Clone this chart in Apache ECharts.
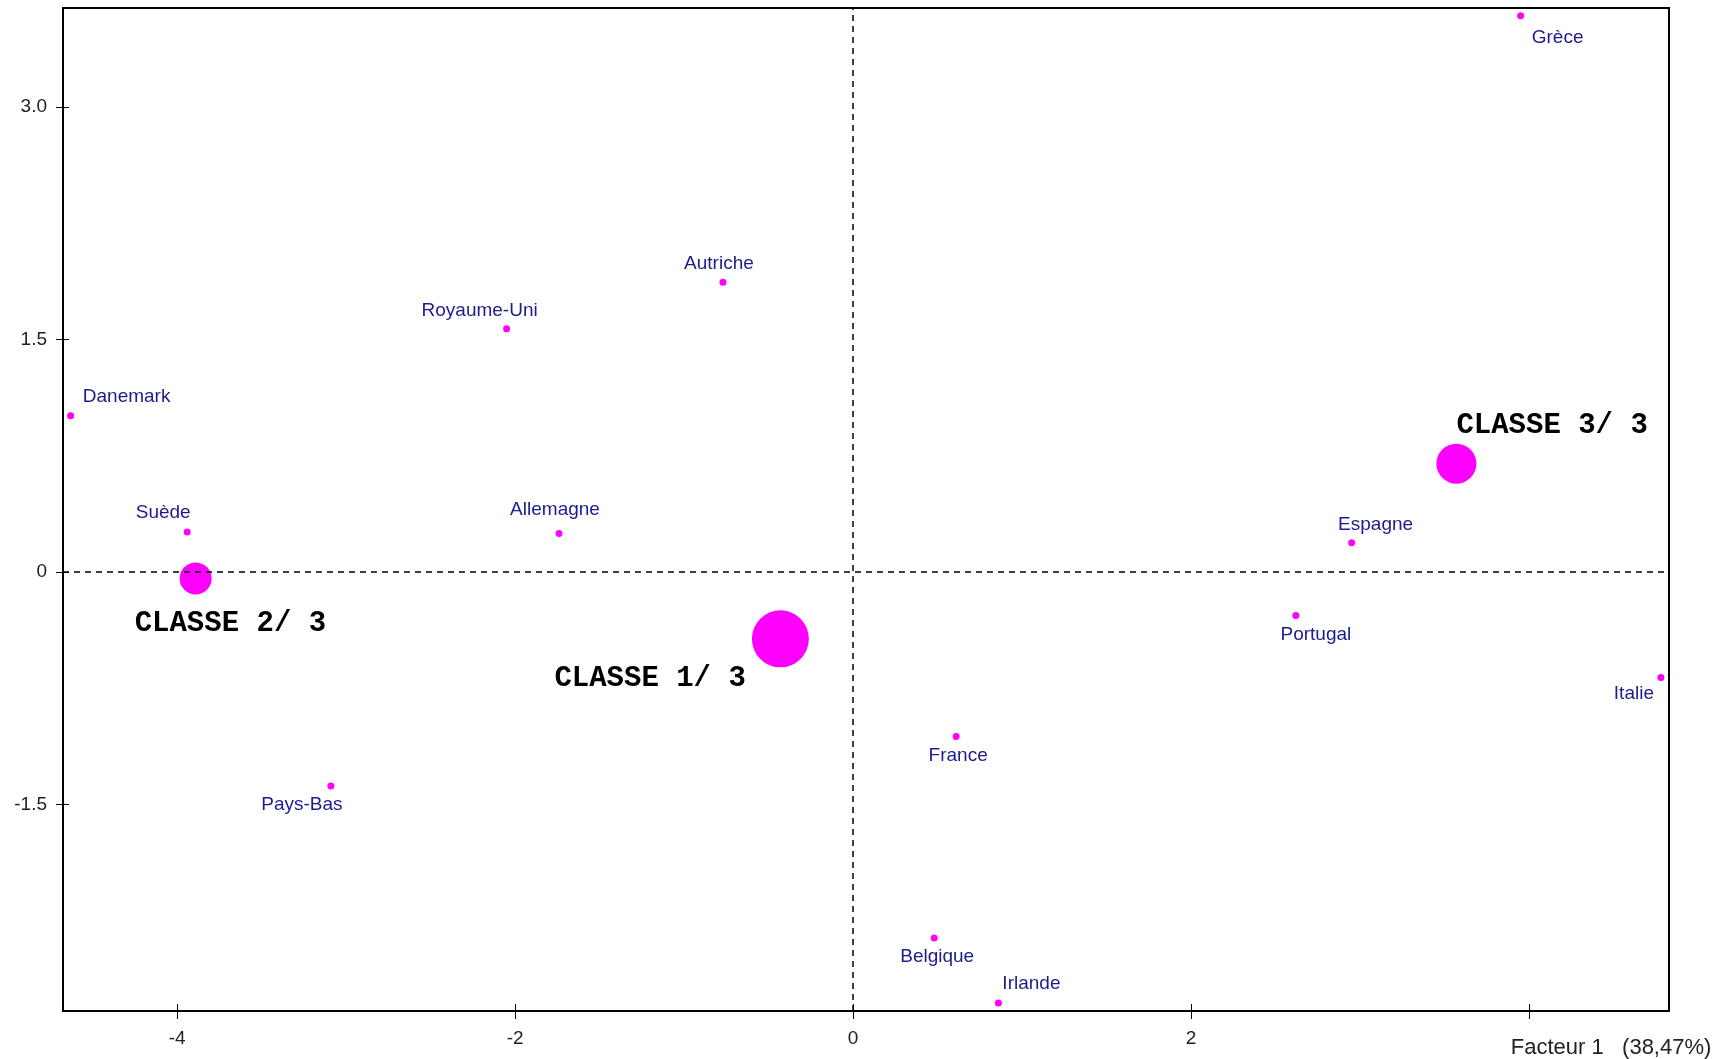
<!DOCTYPE html>
<html>
<head>
<meta charset="utf-8">
<title>Plan factoriel</title>
<script src="https://cdn.jsdelivr.net/npm/echarts@6/dist/echarts.min.js"></script>
<style>
    html, body { margin: 0; padding: 0; background: #fff; }
    #chart { width: 1736px; height: 1059px; }
</style>
</head>
<body>
<div id="chart"></div>
<script>
// individus (pays)
const countries = ['Grèce', 'Autriche', 'Royaume-Uni', 'Danemark', 'Suède', 'Allemagne', 'Espagne',
    'Portugal', 'Italie', 'France', 'Pays-Bas', 'Belgique', 'Irlande'];
const countryX = [3.95, -0.77, -2.05, -4.63, -3.94, -1.74, 2.95, 2.62, 4.78, 0.61, -3.09, 0.48, 0.86];
const countryY = [3.59, 1.87, 1.57, 1.01, 0.26, 0.25, 0.19, -0.28, -0.68, -1.06, -1.38, -2.36, -2.78];

// centres de classes
const classes = ['CLASSE 1/ 3', 'CLASSE 2/ 3', 'CLASSE 3/ 3'];
const classX = [-0.43, -3.89, 3.57];
const classY = [-0.43, -0.04, 0.70];

const xTicks = [-4, -2, 0, 2, 4];
const yTicks = [-1.5, 0, 1.5, 3.0];
const xTitle = 'Facteur 1   (38,47%)';

// placement des étiquettes (px, relatif au point)
const labelOffset = {
    'Grèce': [37, 22], 'Autriche': [-4, -19], 'Royaume-Uni': [-27, -18], 'Danemark': [56, -19],
    'Suède': [-24, -19], 'Allemagne': [-4, -24], 'Espagne': [24, -18], 'Portugal': [20, 19],
    'Italie': [-27, 16], 'France': [2, 19], 'Pays-Bas': [-29, 19], 'Belgique': [3, 19], 'Irlande': [33, -19]
};
const classStyle = [
    { size: 57, offset: [-226, 40] },
    { size: 32, offset: [-61, 45] },
    { size: 40, offset: [0, -38] }
];

const chart = echarts.init(document.getElementById('chart'));

const countryData = countries.map((n, i) => ({
    name: n,
    value: [countryX[i], countryY[i]],
    label: { offset: labelOffset[n] }
}));
const classData = classes.map((n, i) => ({
    name: n,
    value: [classX[i], classY[i]],
    symbolSize: classStyle[i].size,
    label: { offset: classStyle[i].offset }
}));

const xRange = { min: -4.675, max: 4.828 };
const yRange = { min: -2.831, max: 3.64 };

const option = {
    animation: false,
    backgroundColor: '#fff',
    grid: {
        left: 63, right: 67, top: 8, bottom: 48,
        show: true, borderColor: '#000', borderWidth: 2, backgroundColor: 'transparent'
    },
    xAxis: [
        {
            type: 'value', min: xRange.min, max: xRange.max,
            splitLine: { show: false },
            axisLine: { onZero: false, lineStyle: { color: '#000', width: 2 } },
            axisTick: { customValues: xTicks, length: 8, lineStyle: { color: '#000' } },
            axisLabel: {
                customValues: xTicks, margin: 18,
                color: '#222', fontFamily: 'Liberation Sans', fontSize: 19,
                formatter: v => v === 4 ? '{f|' + xTitle + '}' : String(v),
                rich: { f: { fontFamily: 'Liberation Sans', fontSize: 22, color: '#222', padding: [8, 0, 0, 164] } }
            }
        },
        {
            type: 'value', min: xRange.min, max: xRange.max, position: 'bottom',
            splitLine: { show: false }, axisLine: { show: false, onZero: false }, axisLabel: { show: false },
            axisTick: { customValues: xTicks, inside: true, length: 7, lineStyle: { color: '#000' } }
        }
    ],
    yAxis: [
        {
            type: 'value', min: yRange.min, max: yRange.max,
            splitLine: { show: false },
            axisLine: { onZero: false, lineStyle: { color: '#000', width: 2 } },
            axisTick: { customValues: yTicks, length: 7, lineStyle: { color: '#000' } },
            axisLabel: {
                customValues: yTicks, margin: 16,
                color: '#222', fontFamily: 'Liberation Sans', fontSize: 19,
                formatter: v => v === 0 ? '0' : v.toFixed(1)
            }
        },
        {
            type: 'value', min: yRange.min, max: yRange.max, position: 'left',
            splitLine: { show: false }, axisLine: { show: false, onZero: false }, axisLabel: { show: false },
            axisTick: { customValues: yTicks, inside: true, length: 6, lineStyle: { color: '#000' } }
        }
    ],
    series: [
        {
            name: 'pays',
            type: 'scatter',
            symbolSize: 7,
            itemStyle: { color: '#ff00ff', opacity: 1 },
            label: {
                show: true, position: 'inside', align: 'center', verticalAlign: 'middle',
                formatter: '{b}', color: '#1c1c8c', fontFamily: 'Liberation Sans', fontSize: 19
            },
            data: countryData,
            markLine: {
                silent: true, symbol: ['none', 'none'],
                label: { show: false },
                lineStyle: { color: '#000', width: 1.5, type: [6, 5] },
                data: [{ xAxis: 0 }, { yAxis: 0 }]
            },
            z: 3
        },
        {
            name: 'classes',
            type: 'scatter',
            itemStyle: { color: '#ff00ff', opacity: 1 },
            label: {
                show: true, position: 'inside', align: 'left', verticalAlign: 'middle',
                formatter: '{b}', color: '#000', fontFamily: 'Liberation Mono',
                fontWeight: 'bold', fontSize: 29
            },
            data: classData,
            z: 4
        }
    ]
};

chart.setOption(option);
window.addEventListener('resize', () => chart.resize());
</script>
</body>
</html>
